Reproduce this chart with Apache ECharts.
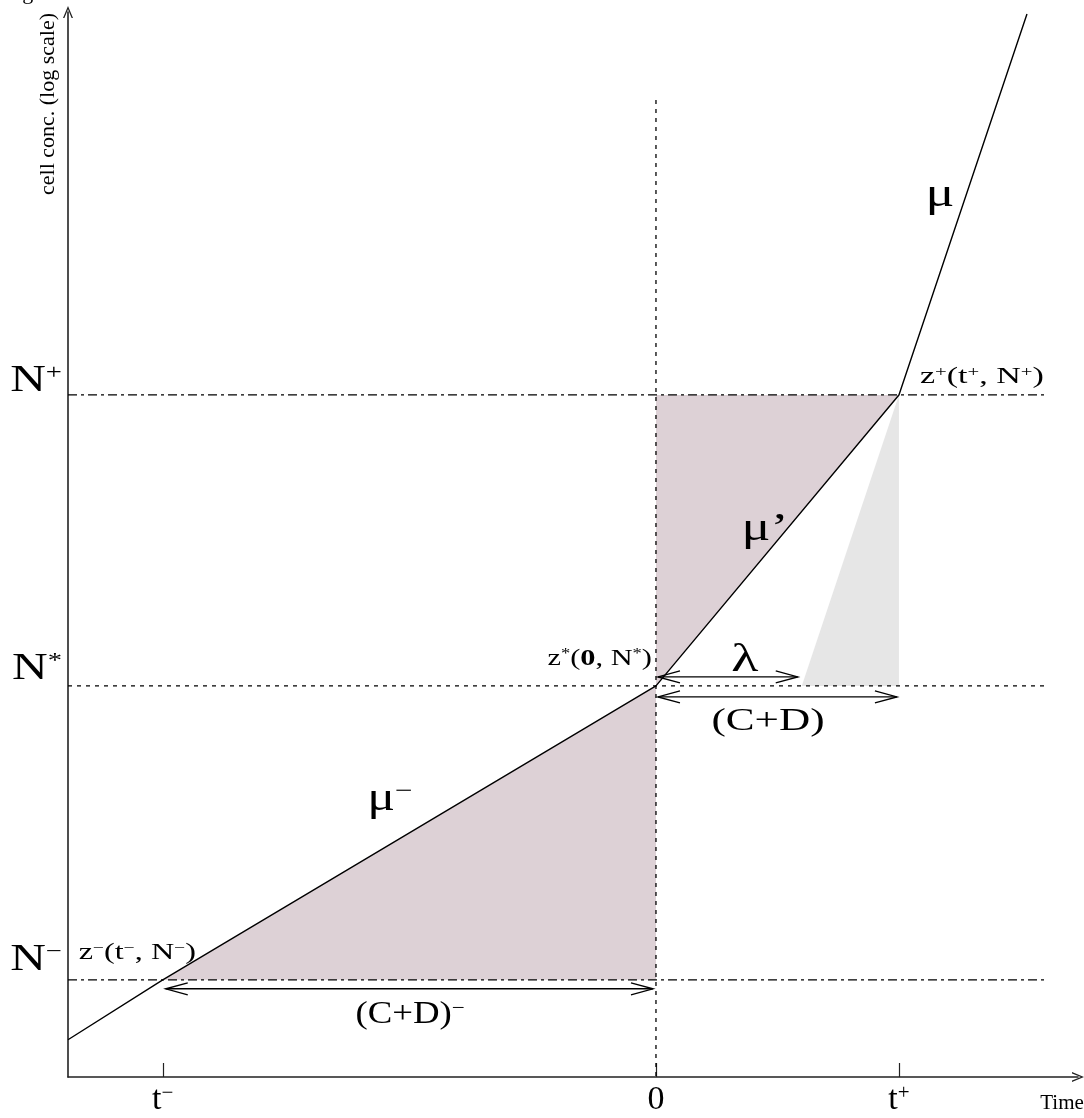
<!DOCTYPE html>
<html><head><meta charset="utf-8">
<script src="https://cdn.jsdelivr.net/npm/echarts@6/dist/echarts.min.js"></script>
<style>html,body{margin:0;padding:0;background:#fff}#c{width:1084px;height:1118px}</style>
</head><body><div id="c"></div>
<script>
// ---------- data (time units, log-concentration units) ----------
const tMinus = -2.03, tZero = 0, tPlus = 1.0;
const nMinus = -1.01, nStar = 0, nPlus = 1.0;
const lambdaT = 0.6;
const growthT = [-2.42, tMinus, tZero, tPlus, 1.527];
const growthN = [-1.216, nMinus, nStar, nPlus, 2.309];
const xTicks = [tMinus, tZero, tPlus];
const xTickLabels = ['{m|t}{s|−}', '{m|0}', '{m|t}{s|+}'];
const yTicks = [nMinus, nStar, nPlus];
const yTickLabels = ['{m|N}{s|−}', '{m|N}{s|*}', '{m|N}{s|+}'];
const refLineEnd = 1.613;
const zeroLineTop = 2.014;
const xRange = [-2.42, 1.737];
const yRange = [-1.344, 2.316];

const SERIF = '"Liberation Serif","Times New Roman",serif';
const mkRich = (big, small) => ({
  m: {fontFamily: SERIF, fontSize: big, color: '#000'},
  b: {fontFamily: SERIF, fontSize: big, color: '#000', fontWeight: 'bold'},
  s: {fontFamily: SERIF, fontSize: small, color: '#000', verticalAlign: 'top'}
});
const richTick = mkRich(34, 21);
const richY = mkRich(38, 22);
const richZ = mkRich(23, 14);
const richGreek = mkRich(40, 24);
const richCD = mkRich(32, 20);

const pairs = (xs, ys) => xs.map((x, i) => [x, ys[i]]);

const polygons = [
  {pts: [[tMinus, nMinus], [tZero, nStar], [tZero, nMinus]], color: '#ddd1d6'},
  {pts: [[tZero, nStar], [tZero, nPlus], [tPlus, nPlus]], color: '#ddd1d6'},
  {pts: [[lambdaT, nStar], [tPlus, nPlus], [tPlus, nStar]], color: '#e6e6e6'}
];
const arrows = [
  {from: [tZero, nStar], to: [lambdaT, nStar], dy: -9, trim: [2, 4]},
  {from: [tZero, nStar], to: [tPlus, nStar], dy: 11, trim: [2, 2]},
  {from: [tMinus, nMinus], to: [tZero, nMinus], dy: 9, trim: [3, 3]}
];
const annotations = [
  // y-axis tick labels
  {at: [xRange[0], nPlus], dx: -6, dy: -14, align: 'right', sx: 1.3, text: yTickLabels[2], rich: richY},
  {at: [xRange[0], nStar], dx: -6, dy: -17, align: 'right', sx: 1.3, text: yTickLabels[1], rich: richY},
  {at: [xRange[0], nMinus], dx: -6, dy: -20, align: 'right', sx: 1.3, text: yTickLabels[0], rich: richY},
  // points
  {at: [tPlus, nPlus], dx: 21, dy: -18, align: 'left', sx: 1.48, text: '{m|z}{s|+}{m|(t}{s|+}{m|, N}{s|+}{m|)}', rich: richZ},
  {at: [tZero, nStar], dx: -4, dy: -27, align: 'right', sx: 1.32, text: '{m|z}{s|*}{m|(}{b|0}{m|, N}{s|*}{m|)}', rich: richZ},
  {at: [tMinus, nMinus], dx: -84, dy: -27, align: 'left', sx: 1.4, text: '{m|z}{s|−}{m|(t}{s|−}{m|, N}{s|−}{m|)}', rich: richZ},
  // rates and durations
  {at: [1.169, 1.687], dx: 0, dy: 0, align: 'center', sx: 1.35, text: '{m|μ}', rich: richGreek},
  {at: [0.449, 0.536], dx: 0, dy: 0, align: 'center', sx: 1.35, text: '{m|μ’}', rich: richGreek},
  {at: [-1.095, -0.392], dx: 0, dy: 0, align: 'center', sx: 1.3, text: '{m|μ}{s|−}', rich: richGreek},
  {at: [0.366, 0.089], dx: 0, dy: 0, align: 'center', sx: 1.4, text: '{m|λ}', rich: richGreek},
  {at: [0.461, -0.124], dx: 0, dy: 0, align: 'center', sx: 1.35, text: '{m|(C+D)}', rich: richCD},
  {at: [-1.012, -1.131], dx: 0, dy: 0, align: 'center', sx: 1.15, text: '{m|(C+D)}{s|−}', rich: richCD},
  // axis names
  {at: [xRange[1], yRange[0]], dx: -16, dy: 26, align: 'center', sx: 1, text: '{m|Time}', rich: mkRich(21, 14)},
  {at: [xRange[0], yRange[1]], dx: -20, dy: 1, align: 'right', sx: 1, rotation: Math.PI / 2, text: '{m|cell conc. (log scale)}', rich: mkRich(22, 14)}
];

const chevron = 'path://M5,0 L10,12 L8.6,12 L5,3.2 L1.4,12 L0,12 Z';
const pickLabel = (ticks, labels) => v => {
  let best = 0;
  ticks.forEach((t, i) => { if (Math.abs(t - v) < Math.abs(ticks[best] - v)) best = i; });
  return labels[best];
};

const chart = echarts.init(document.getElementById('c'), null, {renderer: 'canvas'});
chart.setOption({
  animation: false,
  backgroundColor: '#fff',
  grid: {left: 68, right: 6, top: 12, bottom: 41, containLabel: false},
  graphic: [{type: 'text', left: 4, top: -18, style: {text: 'Figure 3', font: '22px ' + SERIF, fill: '#000'}}],
  xAxis: {
    type: 'value', min: xRange[0], max: xRange[1],
    splitLine: {show: false},
    axisLine: {onZero: false, lineStyle: {color: '#222', width: 1.6}, symbol: ['none', chevron], symbolSize: [10, 16]},
    axisTick: {customValues: xTicks, inside: true, length: 14, lineStyle: {color: '#222', width: 1.2}},
    axisLabel: {customValues: xTicks, formatter: pickLabel(xTicks, xTickLabels), rich: richTick, margin: 6}
  },
  yAxis: {
    type: 'value', min: yRange[0], max: yRange[1],
    splitLine: {show: false},
    axisLine: {onZero: false, lineStyle: {color: '#222', width: 1.6}, symbol: ['none', chevron], symbolSize: [10, 16]},
    axisTick: {show: false},
    axisLabel: {show: false}
  },
  series: [
    {
      type: 'custom', z: 1, silent: true, clip: false,
      data: polygons.map((p, i) => [i, 0]),
      renderItem: (params, api) => {
        const p = polygons[params.dataIndex];
        return {type: 'polygon', shape: {points: p.pts.map(q => api.coord(q))}, style: {fill: p.color}};
      }
    },
    {type: 'line', z: 3, symbol: 'none', silent: true, data: [[xRange[0], nPlus], [refLineEnd, nPlus]],
      lineStyle: {color: '#000', width: 1.3, type: [9, 4, 3, 4]}},
    {type: 'line', z: 3, symbol: 'none', silent: true, data: [[xRange[0], nMinus], [refLineEnd, nMinus]],
      lineStyle: {color: '#000', width: 1.3, type: [9, 4, 3, 4]}},
    {type: 'line', z: 3, symbol: 'none', silent: true, data: [[xRange[0], nStar], [refLineEnd, nStar]],
      lineStyle: {color: '#000', width: 1.3, type: [4, 5]}},
    {type: 'line', z: 3, symbol: 'none', silent: true, data: [[tZero, zeroLineTop], [tZero, yRange[0]]],
      lineStyle: {color: '#000', width: 1.3, type: [4, 5]}},
    {type: 'line', z: 4, symbol: 'none', silent: true, data: pairs(growthT, growthN),
      lineStyle: {color: '#000', width: 1.4}},
    {
      type: 'custom', z: 5, silent: true, clip: false,
      data: arrows.map((a, i) => [i, 0]),
      renderItem: (params, api) => {
        const a = arrows[params.dataIndex];
        const p1 = api.coord(a.from), p2 = api.coord(a.to);
        const y = p1[1] + a.dy, x1 = p1[0] + a.trim[0], x2 = p2[0] - a.trim[1];
        const L = 22, W = 6;
        const st = {stroke: '#000', lineWidth: 1.4, fill: null};
        return {type: 'group', children: [
          {type: 'line', shape: {x1: x1, y1: y, x2: x2, y2: y}, style: st},
          {type: 'polyline', shape: {points: [[x1 + L, y - W], [x1, y], [x1 + L, y + W]]}, style: st},
          {type: 'polyline', shape: {points: [[x2 - L, y - W], [x2, y], [x2 - L, y + W]]}, style: st}
        ]};
      }
    },
    {
      type: 'custom', z: 6, silent: true, clip: false,
      data: annotations.map((a, i) => [i, 0]),
      renderItem: (params, api) => {
        const a = annotations[params.dataIndex];
        const p = api.coord(a.at);
        return {type: 'text', x: p[0] + a.dx, y: p[1] + a.dy, rotation: a.rotation || 0, scaleX: a.sx || 1,
          style: {text: a.text, rich: a.rich, align: a.align, verticalAlign: 'middle'}};
      }
    }
  ]
});
</script></body></html>
